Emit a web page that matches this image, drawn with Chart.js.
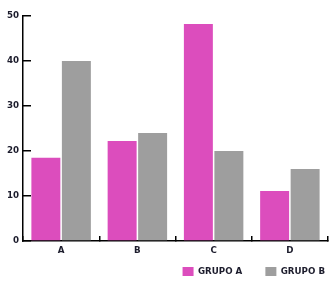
<!DOCTYPE html>
<html>
<head>
<meta charset="utf-8">
<script src="https://cdn.jsdelivr.net/npm/chart.js@4/dist/chart.umd.min.js"></script>
<style>
  html, body { margin: 0; padding: 0; background: #fff; }
  #wrap { width: 336px; height: 286px; }
</style>
</head>
<body>
<div id="wrap"><canvas id="chart" width="336" height="286"></canvas></div>
<script>
// Chart data
const categories = ['A', 'B', 'C', 'D'];
const grupoA = [18.5, 22.2, 48.2, 11.1];
const grupoB = [40, 24, 20, 16];
const seriesNames = ['GRUPO A', 'GRUPO B'];
const seriesColors = ['#dc4dbd', '#9e9e9e'];

const font = { family: '"DejaVu Sans", sans-serif', size: 8.7, weight: 'bold' };
Chart.defaults.color = '#1c1c2c';

const ctx = document.getElementById('chart');
new Chart(ctx, {
    type: 'bar',
    data: {
        labels: categories,
        datasets: [
            { label: seriesNames[0], data: grupoA, backgroundColor: seriesColors[0] },
            { label: seriesNames[1], data: grupoB, backgroundColor: seriesColors[1] }
        ]
    },
    options: {
        responsive: false,
        animation: false,
        categoryPercentage: 0.8,
        barPercentage: 0.95,
        layout: { padding: { top: 16, right: 0, left: 0, bottom: 0 } },
        plugins: {
            tooltip: { enabled: false },
            legend: {
                position: 'bottom',
                align: 'end',
                labels: {
                    boxWidth: 11,
                    boxHeight: 9,
                    font: font,
                    padding: 11,
                    // wider gap after the first entry, like the original
                    generateLabels: (chart) => {
                        const items = Chart.defaults.plugins.legend.labels.generateLabels(chart);
                        items.forEach((it, i) => {
                            it.lineWidth = 0;
                            if (i < items.length - 1) it.text = it.text + '    ';
                        });
                        return items;
                    }
                }
            }
        },
        scales: {
            x: {
                grid: { drawOnChartArea: false, tickLength: -5, color: '#000', lineWidth: 1.5 },
                border: { color: '#000', width: 1.5 },
                ticks: { font: font, padding: 10 },
                afterFit: (scale) => {
                    scale.height = 15;
                    scale.paddingLeft = 0;
                    scale.paddingRight = 8;
                }
            },
            y: {
                min: 0,
                max: 50,
                grid: { drawOnChartArea: false, tickLength: -8, color: '#000', lineWidth: 1.5 },
                border: { color: '#000', width: 1.5 },
                ticks: { font: font, stepSize: 10, padding: 12 },
                afterFit: (scale) => {
                    scale.width = 23;
                    scale.paddingTop = 0;
                    scale.paddingBottom = 0;
                }
            }
        }
    }
});
</script>
</body>
</html>
